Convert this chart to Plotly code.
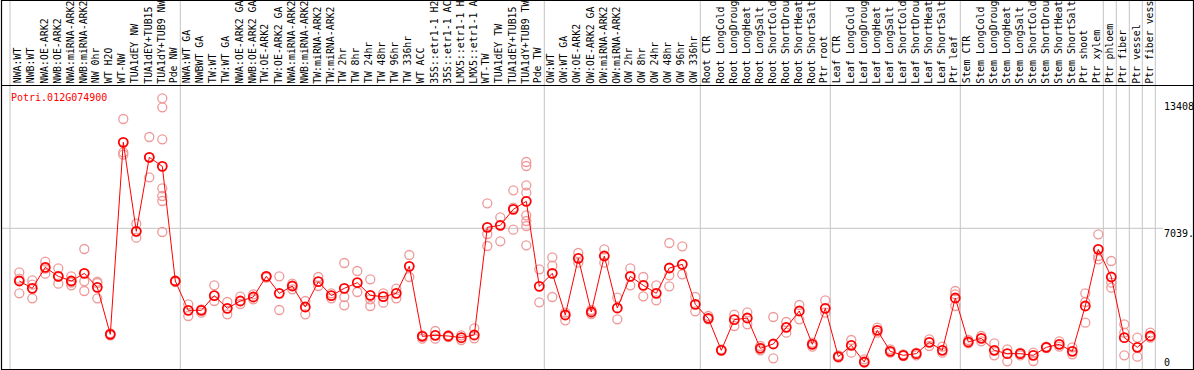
import plotly.graph_objects as go

# ---------------- data ----------------
gene_id = "Potri.012G074900"

samples = [
    "NWA:WT", "NWB:WT", "NWA:OE-ARK2", "NWB:OE-ARK2", "NWA:miRNA-ARK2", "NWB:miRNA-ARK2",
    "NW 0hr", "WT H2O", "WT-NW", "TUA1dEY NW", "TUA1dEY+TUB15 NW", "TUA1dY+TUB9 NW", "Pde NW",
    "NWA:WT GA", "NWBWT GA", "TW:WT", "TW:WT GA", "NWA:OE-ARK2 GA", "NWB:OE-ARK2 GA",
    "TW:OE-ARK2", "TW:OE-ARK2 GA", "NWA:miRNA-ARK2 GA", "NWB:miRNA-ARK2 GA", "TW:miRNA-ARK2",
    "TW:miRNA-ARK2 GA", "TW 2hr", "TW 8hr", "TW 24hr", "TW 48hr", "TW 96hr", "TW 336hr",
    "WT ACC", "35S::etr1-1 H2O", "35S::etr1-1 ACC", "LMX5::etr1-1 H2O", "LMX5::etr1-1 ACC",
    "WT-TW", "TUA1dEY TW", "TUA1dEY+TUB15 TW", "TUA1dY+TUB9 TW", "Pde TW",
    "OW:WT", "OW:WT GA", "OW:OE-ARK2", "OW:OE-ARK2 GA", "OW:miRNA-ARK2", "OW:miRNA-ARK2 GA",
    "OW 2hr", "OW 8hr", "OW 24hr", "OW 48hr", "OW 96hr", "OW 336hr",
    "Root CTR", "Root LongCold", "Root LongDrought", "Root LongHeat", "Root LongSalt",
    "Root ShortCold", "Root ShortDrought", "Root ShortHeat", "Root ShortSalt", "Ptr root",
    "Leaf CTR", "Leaf LongCold", "Leaf LongDrought", "Leaf LongHeat", "Leaf LongSalt",
    "Leaf ShortCold", "Leaf ShortDrought", "Leaf ShortHeat", "Leaf ShortSalt", "Ptr leaf",
    "Stem CTR", "Stem LongCold", "Stem LongDrought", "Stem LongHeat", "Stem LongSalt",
    "Stem ShortCold", "Stem ShortDrought", "Stem ShortHeat", "Stem ShortSalt", "Ptr shoot",
    "Ptr xylem", "Ptr phloem", "Ptr fiber", "Ptr vessel", "Ptr fiber vessel",
]

means = [
    4457, 4098, 5126, 4686, 4457, 4833, 4147, 1844, 11250, 6890, 10515, 10074, 4457,
    3020, 3020, 3738, 3118, 3477, 3673, 4686, 3853, 4212, 3183, 4424, 3738, 4098, 4375,
    3755, 3689, 3853, 5175, 1746, 1795, 1762, 1681, 1811, 7086, 7184, 7968, 8360, 4196,
    4833, 2791, 5567, 2938, 5682, 3134, 4686, 4245, 3853, 5094, 5273, 3314,
    2628, 1060, 2563, 2644, 1158, 1371, 2187, 2987, 1354, 3118,
    750, 1305, 489, 2040, 1011, 815, 897, 1452, 1060, 3624,
    1469, 1648, 1060, 897, 897, 815, 1207, 1354, 1011, 3232,
    6008, 4653, 1681, 1207, 1762,
]

replicates = [
    [4882, 4571, 3853], [4490, 4277, 3608], [5404, 5061, 4816], [5077, 4686, 4326],
    [4686, 4375, 4245], [6025, 4441, 3967], [4424, 4359, 3608], [1893, 1795],
    [12393, 10760, 10646], [7266, 6890, 6580], [11512, 10515, 9536],
    [13408, 12965, 11397, 8997, 8621, 8376, 6857], [4457, 4408],
    [3314, 2742], [3069, 2906], [4245, 3477], [3428, 2824], [3689, 3330], [3804, 3559],
    [4686, 4620], [4686, 3036], [4326, 4049], [3477, 2824], [4653, 4212], [3853, 3608],
    [5339, 3673, 3265], [4947, 3918], [4539, 3559, 3232], [3853, 3395], [4081, 3608],
    [5731, 4653], [1795, 1632], [2007, 1632], [1795, 1714], [1795, 1567], [2138, 1648],
    [8262, 6759, 6172], [7576, 6400], [8899, 8050, 6972],
    [10287, 10091, 9144, 8784, 7674, 7396, 7151, 6204], [5028, 3412],
    [5616, 5208, 3673], [2906, 2530], [5829, 5355], [3036, 2840], [6008, 5355], [3640, 2579],
    [5077, 4245], [4653, 3706], [4245, 3510], [6319, 4735, 4196], [6155, 4784], [3673, 2971],
    [2742, 2579], [1109], [2808, 2252], [2922, 2334], [1273, 1060], [2693, 668],
    [2448, 1926], [3281, 2579], [1436, 1240], [3510, 2906],
    [815, 701], [1567, 946], [619, 456], [2171, 1926], [1109, 946], [864, 783],
    [946, 815], [1599, 1273], [1240, 946], [3967, 3804, 3232],
    [1567, 1403], [1762, 1501], [1403, 815], [1109, 521], [946, 815], [946, 538],
    [1240, 1175], [1501, 1240], [1207, 864], [3853, 3428, 2416],
    [6743, 5682, 5518], [5437, 4375, 4130], [2334, 1926, 815], [1681, 750], [1926, 1681],
]

# index of last sample of each group (group separators drawn after these)
group_ends = [12, 40, 52, 62, 72, 83, 84, 85, 86, 87]
axis_values = [13408, 7039, 0]
axis_labels = ["13408", "7039.", "0"]

# the header column only has room for 14 characters, as in the original chart
HEADER_CHARS = 14

# ---------------- layout helpers ----------------
W, H = 1194, 370
X0, DX = 19.3, 13.0            # pixel x of first sample, spacing
Y0, KY = 371.98, 1 / 48.99     # pixel y of value 0, px per unit

xr = [(0 - X0) / DX, (W - X0) / DX]
yr = [(Y0 - H) / KY, Y0 / KY]


def px(xp):
    return xp / W


def py(yp):
    return 1 - yp / H


GRID = "#c4c4c4"
RED = "#ff0000"
PINK = "#ee9a9a"
FONT = "DejaVu Sans Mono"

fig = go.Figure()

rx, ry = [], []
for i, reps in enumerate(replicates):
    for v in reps:
        rx.append(i)
        ry.append(v)

fig.add_trace(go.Scatter(
    x=rx, y=ry, mode="markers",
    marker=dict(symbol="circle-open", size=9, color=PINK, line=dict(width=1.3, color=PINK)),
    hoverinfo="skip", cliponaxis=False,
))
fig.add_trace(go.Scatter(
    x=list(range(len(samples))), y=means, mode="lines+markers",
    line=dict(color=RED, width=1),
    marker=dict(symbol="circle-open", size=9, color=RED, line=dict(width=1.8, color=RED)),
    text=samples, hoverinfo="text+y", cliponaxis=False,
))

shapes = []
# vertical group separators
sep_x = [(10 - X0) / DX] + [e + 5 / DX for e in group_ends]
for sx in sep_x:
    shapes.append(dict(type="line", xref="x", yref="paper", x0=sx, x1=sx,
                       y0=py(369), y1=py(0), line=dict(color=GRID, width=1), layer="below"))
# horizontal grid line at middle axis value
shapes.append(dict(type="line", xref="paper", yref="y", x0=px(1), x1=px(1163),
                   y0=axis_values[1], y1=axis_values[1],
                   line=dict(color=GRID, width=1), layer="below"))
# frame + header divider
shapes.append(dict(type="rect", xref="paper", yref="paper", x0=px(1.5), x1=px(1193.5),
                   y0=py(369.5), y1=py(0.5), line=dict(color="black", width=1.2)))
shapes.append(dict(type="line", xref="paper", yref="paper", x0=px(1.5), x1=px(1193.5),
                   y0=py(85.5), y1=py(85.5), line=dict(color="black", width=1.2)))

annotations = []
for i, s in enumerate(samples):
    annotations.append(dict(
        x=i - 1.5 / DX, y=py(84.5), xref="x", yref="paper", text=s[:HEADER_CHARS].rstrip(),
        textangle=-90, xanchor="center", yanchor="bottom", showarrow=False, borderpad=0,
        font=dict(family=FONT, size=9.9, color="black"),
    ))
annotations.append(dict(
    x=px(9), y=py(97), xref="paper", yref="paper", text=gene_id, showarrow=False,
    xanchor="left", yanchor="middle", font=dict(family=FONT, size=10, color=RED),
))
label_y = [107, 233, 362]
for lab, ly in zip(axis_labels, label_y):
    annotations.append(dict(
        x=px(1162), y=py(ly), xref="paper", yref="paper", text=lab, showarrow=False,
        xanchor="left", yanchor="middle", font=dict(family=FONT, size=10, color="black"),
    ))

fig.update_layout(
    width=W, height=H, margin=dict(l=0, r=0, t=0, b=0),
    paper_bgcolor="white", plot_bgcolor="white", showlegend=False,
    xaxis=dict(visible=False, range=xr, fixedrange=True),
    yaxis=dict(visible=False, range=yr, fixedrange=True),
    shapes=shapes, annotations=annotations,
)

fig.write_html(
    "out.html",
    config={"displayModeBar": False},
    post_script="document.body.style.margin='0';document.body.style.overflow='hidden';",
)
